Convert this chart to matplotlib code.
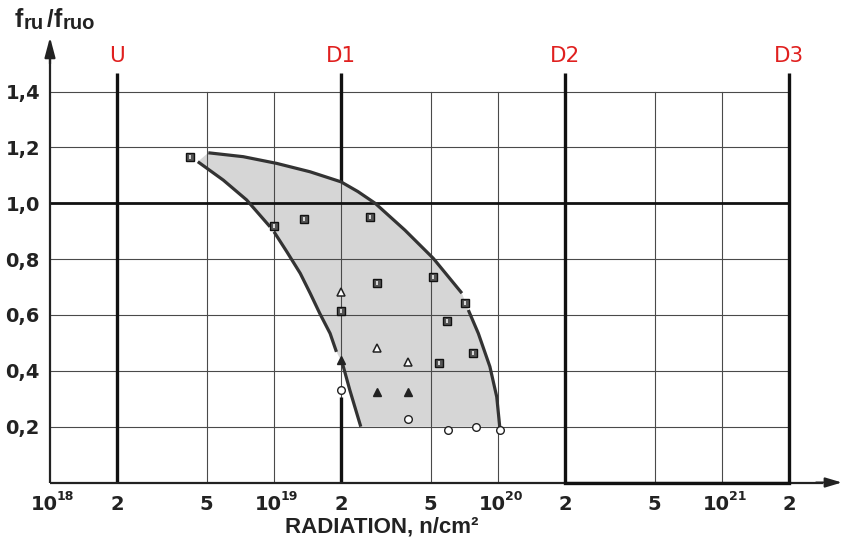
import matplotlib
matplotlib.use("Agg")
import matplotlib.pyplot as plt
from matplotlib.transforms import blended_transform_factory, ScaledTranslation
from matplotlib.ticker import NullLocator, NullFormatter

# ---------------- data ----------------
x_tick_pos = [1e18, 2e18, 5e18, 1e19, 2e19, 5e19, 1e20, 2e20, 5e20, 1e21, 2e21]
x_tick_mant = ["10", "2", "5", "10", "2", "5", "10", "2", "5", "10", "2"]
x_tick_exp = ["18", "", "", "19", "", "", "20", "", "", "21", ""]

y_ticks = [0.2, 0.4, 0.6, 0.8, 1.0, 1.2, 1.4]
y_labels = ["0,2", "0,4", "0,6", "0,8", "1,0", "1,2", "1,4"]

x_grid = [5e18, 1e19, 2e19, 5e19, 1e20, 5e20, 1e21]
y_grid = [0.2, 0.4, 0.6, 0.8, 1.2, 1.4]

limit_x = [2e18, 2e19, 2e20, 2e21]
limit_labels = ["U", "D1", "D2", "D3"]

# upper boundary curve (two pieces, gap at a square)
upper1_x = [5.09e18, 7.29e18, 1.028e19, 1.448e19, 1.99e19, 2.37e19, 2.83e19, 3.84e19, 5.14e19, 6.9e19]
upper1_y = [1.181, 1.167, 1.143, 1.113, 1.077, 1.042, 1.0, 0.904, 0.803, 0.678]
upper2_x = [7.37e19, 8.17e19, 9.2e19, 9.87e19, 1.018e20]
upper2_y = [0.618, 0.534, 0.415, 0.307, 0.2]

# lower boundary curve (three pieces)
lower1_x = [4.57e18, 5.94e18, 7.55e18, 9.6e18]
lower1_y = [1.149, 1.083, 1.012, 0.916]
lower2_x = [1.0e19, 1.14e19, 1.31e19, 1.45e19, 1.6e19, 1.78e19, 1.9e19]
lower2_y = [0.898, 0.827, 0.749, 0.678, 0.606, 0.534, 0.468]
lower3_x = [2.02e19, 2.18e19, 2.44e19]
lower3_y = [0.427, 0.331, 0.2]

# measured points
sq_x = [4.2e18, 1.0e19, 1.36e19, 2.68e19, 2.87e19, 2.0e19, 5.11e19, 7.12e19, 5.9e19, 7.76e19, 5.47e19]
sq_y = [1.166, 0.92, 0.944, 0.952, 0.713, 0.614, 0.737, 0.644, 0.577, 0.464, 0.428]
tri_open_x = [2.0e19, 2.87e19, 3.98e19]
tri_open_y = [0.681, 0.481, 0.433]
tri_fill_x = [2.0e19, 2.87e19, 3.98e19]
tri_fill_y = [0.439, 0.325, 0.325]
circ_x = [2.0e19, 3.98e19, 5.96e19, 7.94e19, 1.02e20]
circ_y = [0.331, 0.227, 0.188, 0.2, 0.188]

# ---------------- figure ----------------
W, H = 844, 537
fig = plt.figure(figsize=(W / 100, H / 100), dpi=100)
ax = fig.add_axes([50 / W, (H - 482.5) / H, 794 / W, (482.5 - 35.8) / H])
ax.set_xscale("log")
ax.set_xlim(1e18, 10 ** (18 + 794 / 224))
ax.set_ylim(0, 1.6)
for s in ax.spines.values():
    s.set_visible(False)
ax.xaxis.set_major_locator(NullLocator())
ax.xaxis.set_minor_locator(NullLocator())
ax.xaxis.set_minor_formatter(NullFormatter())
ax.set_yticks(y_ticks)
ax.set_yticklabels(y_labels, fontsize=14, fontweight="bold", color="#222")
ax.tick_params(axis="y", length=0, pad=7.2)
ax.tick_params(axis="x", which="both", length=0, labelbottom=False)

grid_c = "#4a4a4a"
dark = "#111111"

# shaded region
fill_x = upper1_x + upper2_x + lower3_x[::-1] + lower2_x[::-1] + lower1_x[::-1]
fill_y = upper1_y + upper2_y + lower3_y[::-1] + lower2_y[::-1] + lower1_y[::-1]
ax.fill(fill_x, fill_y, color="#d6d6d6", lw=0, zorder=1)

# grid
for xv in x_grid:
    ax.plot([xv, xv], [0, 1.4], color=grid_c, lw=0.8, zorder=2)
for yv in y_grid:
    ax.plot([1e18, 2e21], [yv, yv], color=grid_c, lw=0.8, zorder=2)
ax.plot([1e18, 2e21], [1.0, 1.0], color=dark, lw=2.0, zorder=3)

# thick limit lines
lim_top = 1.467
for xv in limit_x:
    if xv == 2e19:
        ax.plot([xv, xv], [1.077, lim_top], color=dark, lw=2.4, zorder=3, solid_capstyle="butt")
        ax.plot([xv, xv], [0, 0.305], color=dark, lw=2.4, zorder=3, solid_capstyle="butt")
    else:
        ax.plot([xv, xv], [0, lim_top], color=dark, lw=2.4, zorder=3, solid_capstyle="butt")
for xv, lab in zip(limit_x, limit_labels):
    ax.text(xv, (482.5 - 61.7) / 279.2, lab, ha="center", va="baseline",
            fontsize=15.5, color="#e0201f", family="DejaVu Sans")

# axes with arrows
ax.plot([1e18, 1e18], [0, 1.53], color="#222", lw=1.6, clip_on=False, zorder=4, solid_capstyle="butt")
ax.annotate("", xy=(1e18, 1.595), xytext=(1e18, 1.50),
            arrowprops=dict(arrowstyle="-|>,head_length=1.2,head_width=0.32",
                            color="#222", lw=1.6, shrinkA=0, shrinkB=0),
            annotation_clip=False, zorder=4)
x_tip = 10 ** 21.535
ax.plot([1e18, 10 ** 21.45], [0, 0], color="#222", lw=1.6, clip_on=False, zorder=4, solid_capstyle="butt")
ax.annotate("", xy=(x_tip, 0), xytext=(10 ** 21.42, 0),
            arrowprops=dict(arrowstyle="-|>,head_length=1.0,head_width=0.3",
                            color="#222", lw=1.4, shrinkA=0, shrinkB=0),
            annotation_clip=False, zorder=4)
ax.plot([2e20, 2e21], [0, 0], color=dark, lw=2.4, clip_on=False, zorder=4)

# boundary curves
curve_kw = dict(color="#333333", lw=2.3, zorder=5, solid_capstyle="butt", solid_joinstyle="round")
for xs, ys in [(upper1_x, upper1_y), (upper2_x, upper2_y),
               (lower1_x, lower1_y), (lower2_x, lower2_y), (lower3_x, lower3_y)]:
    ax.plot(xs, ys, **curve_kw)

# markers
ax.plot(sq_x, sq_y, ls="none", marker="s", ms=5.6, mfc="#555555", mec="#111111", mew=1.0, zorder=6)
ax.plot(sq_x, sq_y, ls="none", marker="|", ms=3.4, mec="white", mew=1.1, zorder=7)
ax.plot(tri_open_x, tri_open_y, ls="none", marker="^", ms=6, mfc="white", mec="#222", mew=1.1, zorder=6)
ax.plot(tri_fill_x, tri_fill_y, ls="none", marker="^", ms=6, mfc="#222", mec="#222", mew=1.0, zorder=6)
ax.plot(circ_x, circ_y, ls="none", marker="o", ms=5.5, mfc="white", mec="#222", mew=1.0, zorder=6)

# x tick labels
trans_x = blended_transform_factory(ax.transData, fig.transFigure)
base_y = 1 - 510.5 / H
for xv, m, e in zip(x_tick_pos, x_tick_mant, x_tick_exp):
    if e:
        ax.text(xv, base_y, m, transform=trans_x + ScaledTranslation(8 / 100, 0, fig.dpi_scale_trans),
                ha="right", va="baseline", fontsize=14, fontweight="bold", color="#222")
        ax.text(xv, base_y, e, transform=trans_x + ScaledTranslation(7 / 100, 11 / 100, fig.dpi_scale_trans),
                ha="left", va="baseline", fontsize=9, fontweight="bold", color="#222")
    else:
        ax.text(xv, base_y, m, transform=trans_x, ha="center", va="baseline",
                fontsize=14, fontweight="bold", color="#222")

# x axis label
fig.text(382 / W, 1 - 533 / H, "RADIATION, n/cm²", ha="center", va="baseline",
         fontsize=16, fontweight="bold", color="#222", family=["Liberation Sans", "DejaVu Sans"])

# y axis label  f_ru / f_ruo
lab_kw = dict(va="baseline", fontweight="bold", color="#222", family=["Liberation Sans", "DejaVu Sans"])
fig.text(15 / W, 1 - 27 / H, "f", fontsize=18, **lab_kw)
fig.text(24 / W, 1 - 29 / H, "ru", fontsize=14.5, **lab_kw)
fig.text(47 / W, 1 - 27 / H, "/", fontsize=17, **lab_kw)
fig.text(54 / W, 1 - 27 / H, "f", fontsize=18, **lab_kw)
fig.text(63 / W, 1 - 29 / H, "ruo", fontsize=14.5, **lab_kw)

fig.savefig("out.png", dpi=100)
